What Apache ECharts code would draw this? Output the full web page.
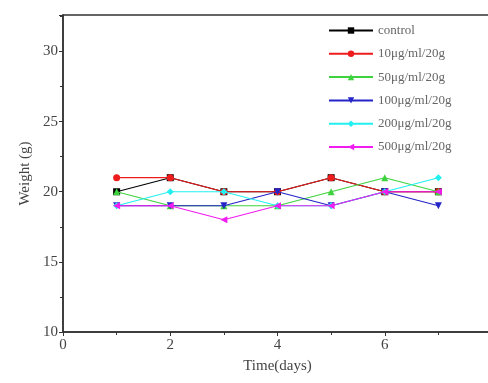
<!DOCTYPE html>
<html>
<head>
<meta charset="utf-8">
<script src="https://cdn.jsdelivr.net/npm/echarts@6/dist/echarts.min.js"></script>
<style>
  html, body { margin: 0; padding: 0; background: #fff; }
  #chart { width: 488px; height: 383px; }
</style>
</head>
<body>
<div id="chart"></div>
<script>
const days = [1, 2, 3, 4, 5, 6, 7];
const seriesNames = ['control', '10μg/ml/20g', '50μg/ml/20g', '100μg/ml/20g', '200μg/ml/20g', '500μg/ml/20g'];
const control = [20, 21, 20, 20, 21, 20, 20];
const dose10 = [21, 21, 20, 20, 21, 20, 20];
const dose50 = [20, 19, 19, 19, 20, 21, 20];
const dose100 = [19, 19, 19, 20, 19, 20, 19];
const dose200 = [19, 20, 20, 19, 19, 20, 21];
const dose500 = [19, 19, 18, 19, 19, 20, 20];

const colors = ['#000000', '#ee1c1c', '#3fd23f', '#2424c8', '#22f0f0', '#f01cf0'];
const symbols = ['rect', 'circle', 'triangle', 'triangle', 'diamond', 'triangle'];
const rotations = [0, 0, 0, 180, 0, 90];
const values = [control, dose10, dose50, dose100, dose200, dose500];

const font = 'Liberation Serif';
const textColor = '#444';

const chart = echarts.init(document.getElementById('chart'));

const series = values.map((vals, i) => ({
  name: seriesNames[i],
  type: 'line',
  data: days.map((d, j) => [d, vals[j]]),
  symbol: symbols[i],
  symbolSize: 7,
  symbolRotate: rotations[i],
  lineStyle: { color: colors[i], width: 1.2 },
  itemStyle: { color: colors[i] },
  z: 2 + i
}));

chart.setOption({
  animation: false,
  textStyle: { fontFamily: font },
  grid: {
    left: 63,
    right: -4,
    top: 15,
    bottom: 51,
    outerBoundsMode: 'none',
    containLabel: false,
    show: true,
    borderColor: '#333',
    borderWidth: 1.5
  },
  legend: {
    orient: 'vertical',
    left: 323,
    top: 19,
    itemWidth: 44,
    itemHeight: 8,
    itemGap: 10.3,
    textStyle: { fontFamily: font, fontSize: 13, color: '#666' },
    data: seriesNames
  },
  xAxis: {
    type: 'value',
    min: 0,
    max: 8,
    interval: 2,
    name: 'Time(days)',
    nameLocation: 'middle',
    nameGap: 27,
    nameTextStyle: { fontFamily: font, fontSize: 15, color: textColor },
    axisLine: { lineStyle: { color: '#333', width: 1.5 } },
    axisTick: { show: true, inside: false, length: 4, lineStyle: { color: '#333' } },
    minorTick: { show: true, splitNumber: 2, length: 3, lineStyle: { color: '#333' } },
    axisLabel: {
      fontFamily: font, fontSize: 15, color: textColor, margin: 6,
      showMaxLabel: true, hideOverlap: false
    },
    splitLine: { show: false }
  },
  yAxis: {
    type: 'value',
    min: 10,
    max: 32.6,
    interval: 5,
    name: 'Weight (g)',
    nameLocation: 'middle',
    nameGap: 30,
    nameTextStyle: { fontFamily: font, fontSize: 15, color: textColor },
    axisLine: { show: true, lineStyle: { color: '#333', width: 1.5 } },
    axisTick: { show: true, inside: false, length: 4, lineStyle: { color: '#333' } },
    minorTick: { show: true, splitNumber: 2, length: 3, lineStyle: { color: '#333' } },
    axisLabel: {
      fontFamily: font, fontSize: 15, color: textColor, margin: 5,
      showMaxLabel: false
    },
    splitLine: { show: false }
  },
  series: series
});
</script>
</body>
</html>
